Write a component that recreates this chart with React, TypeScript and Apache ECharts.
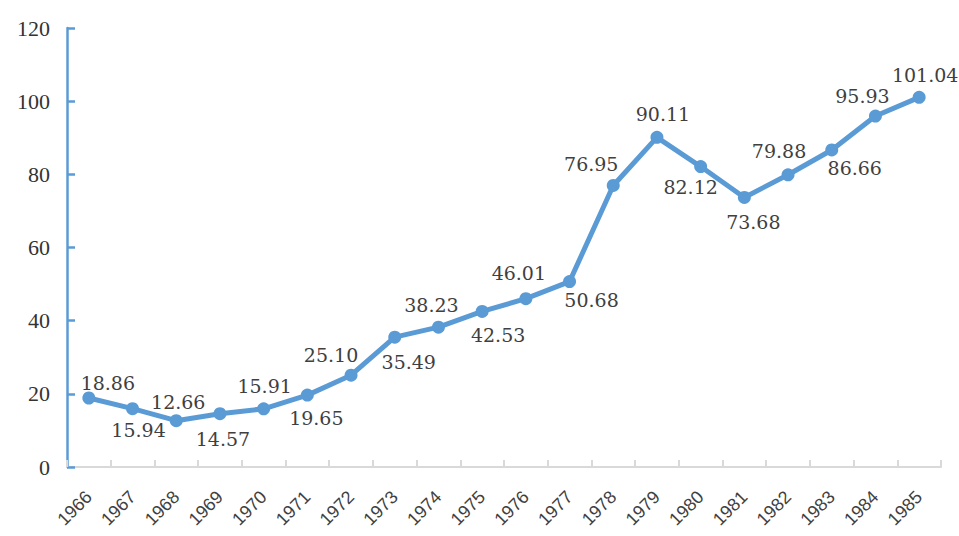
import React, { useEffect, useRef } from "react";
import * as echarts from "echarts";

const years = [
  "1966", "1967", "1968", "1969", "1970", "1971", "1972", "1973", "1974", "1975",
  "1976", "1977", "1978", "1979", "1980", "1981", "1982", "1983", "1984", "1985",
];
const values = [
  18.86, 15.94, 12.66, 14.57, 15.91, 19.65, 25.1, 35.49, 38.23, 42.53,
  46.01, 50.68, 76.95, 90.11, 82.12, 73.68, 79.88, 86.66, 95.93, 101.04,
];
const yTicks = [0, 20, 40, 60, 80, 100, 120];

// label offsets (dx, dy) from each point's centre
const labelDx = [19, 6, 2, 3, 1, 9, -20, 14, -7, 16, -7, 22, -22, 6, -10, 9, -9, 23, -13, 6];
const labelDy = [-15, 21, -19, 25, -23, 23, -20, 25, -22, 24, -26, 18, -21, -23, 20, 25, -24, 18, -20, -22];

export default function App() {
  const ref = useRef<HTMLDivElement>(null);
  useEffect(() => {
    if (!ref.current) return;
    const chart = echarts.init(ref.current, null, { renderer: "svg" });
    const blue = "#5B9BD5";
    chart.setOption({
      animation: false,
      backgroundColor: "#ffffff",
      grid: { left: 67, right: 18, top: 28, bottom: 69, containLabel: false },
      xAxis: {
        type: "category",
        data: years,
        boundaryGap: true,
        axisLine: { show: true, lineStyle: { color: "#d9d9d9", width: 2 } },
        axisTick: { show: true, inside: true, length: 7, alignWithLabel: false, lineStyle: { color: "#d9d9d9", width: 2 } },
        axisLabel: {
          rotate: 45,
          margin: 27,
          interval: 0,
          color: "#404040",
          fontFamily: "Liberation Sans",
          fontSize: 18,
        },
        splitLine: { show: false },
      },
      yAxis: {
        type: "value",
        min: yTicks[0],
        max: yTicks[yTicks.length - 1],
        interval: 20,
        axisLine: { show: true, lineStyle: { color: blue, width: 2.5 } },
        axisTick: { show: true, inside: true, length: 8, lineStyle: { color: blue, width: 2.5 } },
        axisLabel: {
          margin: 17,
          color: "#333333",
          fontFamily: "Liberation Serif",
          fontSize: 22,
        },
        splitLine: { show: false },
      },
      series: [
        {
          type: "line",
          data: values.map((v, i) => ({
            value: v,
            label: { offset: [labelDx[i], labelDy[i]] },
          })),
          symbol: "circle",
          symbolSize: 13,
          lineStyle: { color: blue, width: 5 },
          itemStyle: { color: blue },
          label: {
            show: true,
            position: "inside",
            formatter: (p: any) => Number(p.value).toFixed(2),
            color: "#404040",
            fontFamily: "DejaVu Serif",
            fontSize: 19,
          },
        },
      ],
    });
    return () => chart.dispose();
  }, []);
  return (
    <div
      ref={ref}
      style={{ position: "fixed", left: 0, top: 0, width: 959, height: 536 }}
    />
  );
}
